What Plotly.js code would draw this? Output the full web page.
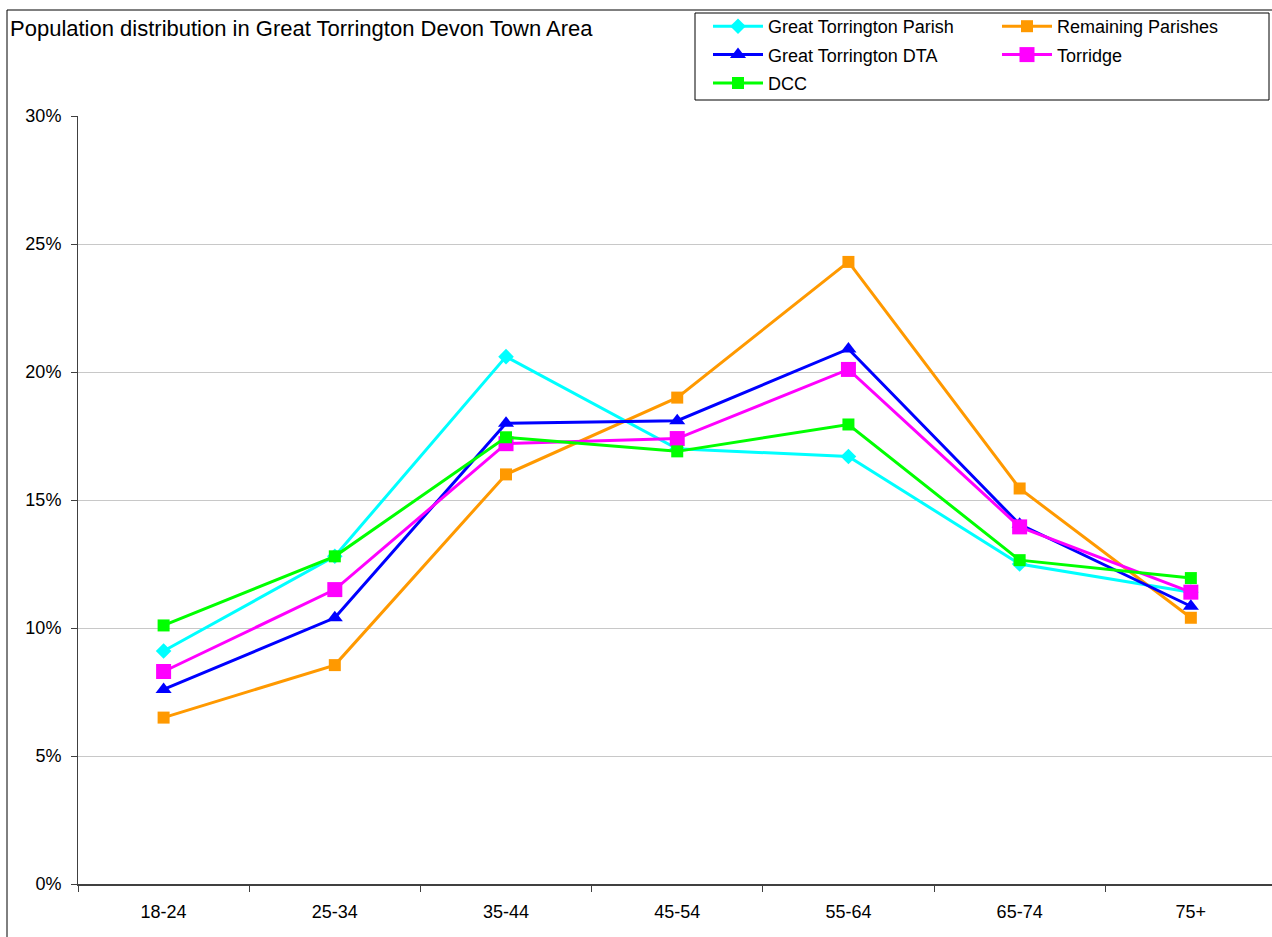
<!DOCTYPE html>
<html>
<head>
<meta charset="utf-8">
<script src="https://cdn.plot.ly/plotly-3.0.1.min.js"></script>
<style>
html,body{margin:0;padding:0;background:#fff;overflow:hidden;}
#chart{width:1272px;height:937px;}
</style>
</head>
<body>
<div id="chart"></div>
<script>
const categories = ["18-24", "25-34", "35-44", "45-54", "55-64", "65-74", "75+"];
const parish    = [9.1, 12.8, 20.6, 17.0, 16.7, 12.5, 11.4];
const remaining = [6.5, 8.55, 16.0, 19.0, 24.3, 15.45, 10.4];
const dta       = [7.6, 10.4, 18.0, 18.1, 20.9, 14.05, 10.85];
const torridge  = [8.3, 11.5, 17.2, 17.4, 20.1, 13.95, 11.4];
const dcc       = [10.1, 12.8, 17.45, 16.9, 17.95, 12.65, 11.95];
const yTicks    = [0, 5, 10, 15, 20, 25, 30];

const W = 1272, H = 937;
const L = 78, T = 116, B = 53;
const plotW = W - L, plotH = H - T - B;
const px = v => (v - L) / plotW;
const py = v => (H - B - v) / plotH;

const font = "Liberation Sans, Arial, sans-serif";

function tr(name, y, color, symbol, size, legend) {
  return {
    type: "scatter", mode: "lines+markers", name: name,
    x: categories, y: y,
    line: {color: color, width: 3},
    marker: {color: color, symbol: symbol, size: size},
    legend: legend, legendgroup: name
  };
}

const data = [
  tr("Great Torrington Parish", parish, "#00FFFF", "diamond", 12, "legend"),
  tr("Remaining Parishes", remaining, "#FF9900", "square", 12, "legend2"),
  tr("Great Torrington DTA", dta, "#0000FF", "triangle-up", 14, "legend"),
  tr("Torridge", torridge, "#FF00FF", "square", 15, "legend2"),
  tr("DCC", dcc, "#00FF00", "square", 12, "legend")
];

const legendCommon = {
  orientation: "v", yanchor: "top", xanchor: "left",
  bgcolor: "rgba(0,0,0,0)", borderwidth: 0,
  font: {family: font, size: 18, color: "#000"},
  itemwidth: 50, traceorder: "grouped", tracegroupgap: 2
};

const layout = {
  width: W, height: H,
  margin: {l: L, r: 0, t: T, b: B, pad: 0},
  paper_bgcolor: "#fff", plot_bgcolor: "#fff",
  font: {family: font, color: "#000"},
  title: {
    text: "Population distribution in Great Torrington Devon Town Area",
    font: {family: font, size: 22, color: "#000"},
    xref: "container", yref: "container",
    x: 10 / W, xanchor: "left", y: 1 - 28 / H, yanchor: "middle"
  },
  showlegend: true,
  legend: Object.assign({}, legendCommon, {x: px(708), y: py(8)}),
  legend2: Object.assign({}, legendCommon, {x: px(997), y: py(8)}),
  xaxis: {
    type: "category", range: [-0.5, 6.474],
    showline: true, linecolor: "#404040", linewidth: 2,
    ticks: "outside", ticklen: 6, tickcolor: "#404040", tickwidth: 1,
    tickson: "boundaries", showgrid: false, zeroline: false,
    tickfont: {family: font, size: 18, color: "#000"},
    ticklabelstandoff: 10
  },
  yaxis: {
    range: [0, 30], tickvals: yTicks, ticktext: yTicks.map(v => v + "%"),
    showline: true, linecolor: "#404040", linewidth: 1,
    ticks: "outside", ticklen: 6, tickcolor: "#404040",
    showgrid: true, gridcolor: "#C8C8C8", gridwidth: 1, zeroline: false,
    tickfont: {family: font, size: 18, color: "#000"},
    ticklabelstandoff: 6
  },
  shapes: [
    {type: "rect", xref: "paper", yref: "paper",
     x0: px(7), x1: px(1320), y0: py(980), y1: py(10),
     line: {color: "#000", width: 1}, fillcolor: "rgba(0,0,0,0)", layer: "above"},
    {type: "rect", xref: "paper", yref: "paper",
     x0: px(695), x1: px(1269), y0: py(100), y1: py(13),
     line: {color: "#000", width: 1}, fillcolor: "rgba(0,0,0,0)", layer: "above"}
  ]
};

Plotly.newPlot("chart", data, layout, {displayModeBar: false, responsive: false});
</script>
</body>
</html>
